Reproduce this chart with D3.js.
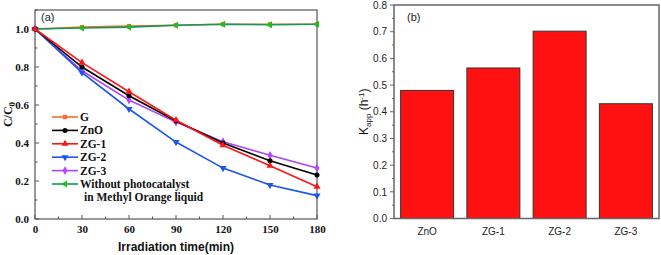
<!DOCTYPE html>
<html><head><meta charset="utf-8">
<script src="https://cdn.jsdelivr.net/npm/d3@7"></script>
<style>body{margin:0;background:#fff}svg{display:block}</style>
</head><body>
<svg id="c" width="661" height="255"></svg>
<script>
const times = [0, 30, 60, 90, 120, 150, 180];
const seriesG = [1.0, 1.01, 1.015, 1.02, 1.025, 1.025, 1.025];
const seriesZnO = [1.0, 0.80, 0.649, 0.516, 0.40, 0.307, 0.232];
const seriesZG1 = [1.0, 0.823, 0.67, 0.52, 0.388, 0.28, 0.17];
const seriesZG2 = [1.0, 0.77, 0.579, 0.405, 0.268, 0.179, 0.123];
const seriesZG3 = [1.0, 0.78, 0.626, 0.51, 0.407, 0.335, 0.268];
const seriesNone = [1.0, 1.005, 1.01, 1.02, 1.025, 1.022, 1.025];
const xTicksA = [0, 30, 60, 90, 120, 150, 180];
const yTicksA = [0.0, 0.2, 0.4, 0.6, 0.8, 1.0];

const barCats = ["ZnO", "ZG-1", "ZG-2", "ZG-3"];
const barVals = [0.48, 0.564, 0.702, 0.43];
const yTicksB = [0.0, 0.1, 0.2, 0.3, 0.4, 0.5, 0.6, 0.7, 0.8];

const svg = d3.select("#c");
const serif = "'Liberation Serif','Times New Roman',serif";
const sans = "'Liberation Sans',Arial,sans-serif";

// ---------- Panel (a) ----------
const A = {l: 35, r: 317, t: 10, b: 219};
const xa = d3.scaleLinear().domain([0, 180]).range([A.l, A.r]);
const ya = d3.scaleLinear().domain([0, 1.1]).range([A.b, A.t]);
const ga = svg.append("g");
const frameCol = "#555";

ga.append("rect").attr("x", A.l).attr("y", A.t).attr("width", A.r - A.l).attr("height", A.b - A.t)
  .attr("fill", "none").attr("stroke", frameCol).attr("stroke-width", 1.2);

// ticks inward
const xMinorA = d3.range(0, 181, 15);
xMinorA.forEach(v => {
  const major = v % 30 === 0;
  ga.append("line").attr("x1", xa(v)).attr("x2", xa(v)).attr("y1", A.b).attr("y2", A.b - (major ? 4 : 2.5))
    .attr("stroke", frameCol).attr("stroke-width", 1);
});
d3.range(0, 1.101, 0.1).forEach(v => {
  const major = Math.round(v * 10) % 2 === 0;
  ga.append("line").attr("x1", A.l).attr("x2", A.l + (major ? 4 : 2.5)).attr("y1", ya(v)).attr("y2", ya(v))
    .attr("stroke", frameCol).attr("stroke-width", 1);
});
const xAxA = ga.append("g").attr("transform", `translate(0,${A.b})`)
  .call(d3.axisBottom(xa).tickValues(xTicksA).tickSize(0).tickPadding(6).tickFormat(d3.format("d")));
xAxA.select(".domain").remove();
xAxA.selectAll("text").attr("font-family", serif).attr("font-weight", "bold").attr("font-size", 11).attr("fill", "#111");
const yAxA = ga.append("g").attr("transform", `translate(${A.l},0)`)
  .call(d3.axisLeft(ya).tickValues(yTicksA).tickSize(0).tickPadding(6).tickFormat(d3.format(".1f")));
yAxA.select(".domain").remove();
yAxA.selectAll("text").attr("font-family", serif).attr("font-weight", "bold").attr("font-size", 11).attr("fill", "#111");

ga.append("text").attr("x", 176).attr("y", 251).attr("text-anchor", "middle")
  .attr("font-family", sans).attr("font-weight", "bold").attr("font-size", 12).attr("fill", "#111")
  .text("Irradiation time(min)");
const yl = ga.append("text").attr("transform", `translate(12,${ya(0.55)}) rotate(-90)`).attr("text-anchor", "middle")
  .attr("font-family", serif).attr("font-weight", "bold").attr("font-size", 12).attr("fill", "#111");
yl.append("tspan").text("C/C");
yl.append("tspan").attr("font-size", 9).attr("dy", 3).text("0");

ga.append("text").attr("x", 41).attr("y", 21).attr("font-family", sans).attr("font-size", 11).attr("fill", "#222").text("(a)");

const series = [
  {name: "G", vals: seriesG, color: "#ff6a2a", sym: d3.symbolSquare, size: 18, rot: 0},
  {name: "Without", vals: seriesNone, color: "#0f9a5a", sym: d3.symbolTriangle, size: 22, rot: -90, mcolor: "#22bb22"},
  {name: "ZG-3", vals: seriesZG3, color: "#aa44ff", sym: d3.symbolDiamond, size: 22, rot: 0, mcolor: "#bb44ff"},
  {name: "ZG-2", vals: seriesZG2, color: "#1a55ee", sym: d3.symbolTriangle, size: 22, rot: 180},
  {name: "ZnO", vals: seriesZnO, color: "#000000", sym: d3.symbolCircle, size: 20, rot: 0},
  {name: "ZG-1", vals: seriesZG1, color: "#ff1515", sym: d3.symbolTriangle, size: 22, rot: 0},
];
const line = d3.line().x((d, i) => xa(times[i])).y(d => ya(d));
series.forEach(s => {
  ga.append("path").datum(s.vals).attr("d", line).attr("fill", "none").attr("stroke", s.color).attr("stroke-width", 1.6);
  ga.selectAll(null).data(s.vals).enter().append("path")
    .attr("d", d3.symbol().type(s.sym).size(s.size))
    .attr("transform", (d, i) => `translate(${xa(times[i])},${ya(d)}) rotate(${s.rot})`)
    .attr("fill", s.mcolor || s.color);
});

// legend
const legend = [
  {label: "G", s: series[0]},
  {label: "ZnO", s: series[4]},
  {label: "ZG-1", s: series[5]},
  {label: "ZG-2", s: series[3]},
  {label: "ZG-3", s: series[2]},
  {label: "Without photocatalyst", s: series[1]},
];
legend.forEach((e, i) => {
  const y = 117 + i * 13.4;
  ga.append("line").attr("x1", 52).attr("x2", 78).attr("y1", y).attr("y2", y).attr("stroke", e.s.color).attr("stroke-width", 1.6);
  ga.append("path").attr("d", d3.symbol().type(e.s.sym).size(e.s.size))
    .attr("transform", `translate(65,${y}) rotate(${e.s.rot})`).attr("fill", e.s.mcolor || e.s.color);
  ga.append("text").attr("x", 80).attr("y", y + 4).attr("font-family", serif).attr("font-weight", "bold")
    .attr("font-size", 11.5).attr("fill", "#111").text(e.label);
});
ga.append("text").attr("x", 84).attr("y", 117 + 6 * 13.4 + 4).attr("font-family", serif).attr("font-weight", "bold")
  .attr("font-size", 11.5).attr("fill", "#111").text("in Methyl Orange liquid");

// ---------- Panel (b) ----------
const B = {l: 394, r: 659, t: 5, b: 218.5};
const xb = d3.scaleBand().domain(barCats).range([B.l, B.r]).paddingInner(0.2).paddingOuter(0.1);
const yb = d3.scaleLinear().domain([0, 0.8]).range([B.b, B.t]);
const gb = svg.append("g");
const fcol = "#666";

gb.selectAll(null).data(barVals).enter().append("rect")
  .attr("x", (d, i) => xb(barCats[i])).attr("width", xb.bandwidth())
  .attr("y", d => yb(d)).attr("height", d => yb(0) - yb(d))
  .attr("fill", "#ff1111").attr("stroke", "#333").attr("stroke-width", 1);

gb.append("rect").attr("x", B.l).attr("y", B.t).attr("width", B.r - B.l).attr("height", B.b - B.t)
  .attr("fill", "none").attr("stroke", fcol).attr("stroke-width", 1.5);

d3.range(0, 0.801, 0.05).forEach(v => {
  const major = Math.round(v * 100) % 10 === 0;
  gb.append("line").attr("x1", B.l).attr("x2", B.l - (major ? 4 : 2)).attr("y1", yb(v)).attr("y2", yb(v))
    .attr("stroke", fcol).attr("stroke-width", 1);
});
const yAxB = gb.append("g").attr("transform", `translate(${B.l},0)`)
  .call(d3.axisLeft(yb).tickValues(yTicksB).tickSize(0).tickPadding(7).tickFormat(d3.format(".1f")));
yAxB.select(".domain").remove();
yAxB.selectAll("text").attr("font-family", sans).attr("font-size", 10).attr("fill", "#222");
const xAxB = gb.append("g").attr("transform", `translate(0,${B.b})`)
  .call(d3.axisBottom(xb).tickSize(0).tickPadding(9));
xAxB.select(".domain").remove();
xAxB.selectAll("text").attr("font-family", sans).attr("font-size", 10).attr("fill", "#222");

const kl = gb.append("text").attr("transform", `translate(368,${yb(0.4)}) rotate(-90)`).attr("text-anchor", "middle")
  .attr("font-family", sans).attr("font-size", 12).attr("fill", "#111");
kl.append("tspan").text("K");
kl.append("tspan").attr("font-size", 8).attr("dy", 3).text("app");
kl.append("tspan").attr("dy", -3).text(" (h");
kl.append("tspan").attr("font-size", 8).attr("dy", -4).text("-1");
kl.append("tspan").attr("dy", 4).text(")");

gb.append("text").attr("x", 407).attr("y", 21).attr("font-family", sans).attr("font-size", 11).attr("fill", "#222").text("(b)");
</script>
</body></html>
